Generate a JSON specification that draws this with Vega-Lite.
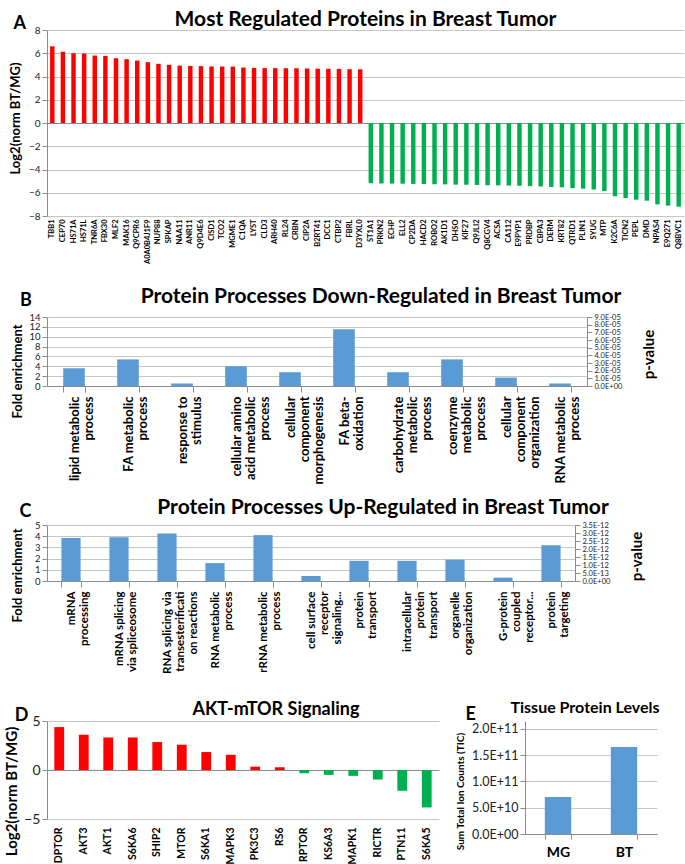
{
  "$schema": "https://vega.github.io/schema/vega-lite/v6.json",
  "padding": {"left": 4, "top": 9, "right": 4, "bottom": 2},
  "spacing": 22,
  "config": {
    "font": "Lato",
    "view": {"stroke": null},
    "axis": {"labelColor": "#222", "titleColor": "#000", "domainColor": "#8c8c8c", "tickColor": "#8c8c8c", "gridColor": "#c6c6c6", "labelFont": "Lato", "titleFont": "Lato", "labelOverlap": false},
    "title": {"font": "Lato", "fontWeight": "bold", "color": "#000"},
    "concat": {"spacing": 16}
  },
  "datasets": {
    "a": [
      {"protein": "TBB1", "log2": 6.6}, {"protein": "CEP70", "log2": 6.12}, {"protein": "HS71A", "log2": 6.0}, {"protein": "HS71L", "log2": 5.97},
      {"protein": "TNR6A", "log2": 5.8}, {"protein": "FBX30", "log2": 5.77}, {"protein": "MLF2", "log2": 5.57}, {"protein": "MAK16", "log2": 5.49},
      {"protein": "Q9CPR6", "log2": 5.37}, {"protein": "A0A0B4J1F9", "log2": 5.23}, {"protein": "NUP88", "log2": 5.09}, {"protein": "SPKAP", "log2": 5.0},
      {"protein": "NAA11", "log2": 4.94}, {"protein": "ANR11", "log2": 4.91}, {"protein": "Q9D4E6", "log2": 4.89}, {"protein": "CISD1", "log2": 4.86},
      {"protein": "TCO2", "log2": 4.86}, {"protein": "MGME1", "log2": 4.85}, {"protein": "C1QA", "log2": 4.77}, {"protein": "LYST", "log2": 4.74},
      {"protein": "CLD3", "log2": 4.72}, {"protein": "ARH40", "log2": 4.72}, {"protein": "RL24", "log2": 4.71}, {"protein": "CRBN", "log2": 4.71},
      {"protein": "CIP2A", "log2": 4.69}, {"protein": "B2RT41", "log2": 4.67}, {"protein": "DCC1", "log2": 4.66}, {"protein": "CTBP2", "log2": 4.65},
      {"protein": "FBRL", "log2": 4.63}, {"protein": "D3YXL0", "log2": 4.62},
      {"protein": "ST1A1", "log2": -5.18}, {"protein": "PRKN2", "log2": -5.2}, {"protein": "ECHP", "log2": -5.21}, {"protein": "ELL2", "log2": -5.22},
      {"protein": "CP2DA", "log2": -5.24}, {"protein": "HACD2", "log2": -5.25}, {"protein": "ROBO2", "log2": -5.27}, {"protein": "AK1D1", "log2": -5.28},
      {"protein": "DHSO", "log2": -5.3}, {"protein": "KIF27", "log2": -5.31}, {"protein": "Q9JLI2", "log2": -5.33}, {"protein": "Q8CGV4", "log2": -5.35},
      {"protein": "ACSA", "log2": -5.36}, {"protein": "CA112", "log2": -5.38}, {"protein": "E9PYP1", "log2": -5.4}, {"protein": "PRDBP", "log2": -5.43},
      {"protein": "CBPA3", "log2": -5.46}, {"protein": "DERM", "log2": -5.5}, {"protein": "KRT82", "log2": -5.53}, {"protein": "QTRD1", "log2": -5.6},
      {"protein": "PLIN1", "log2": -5.65}, {"protein": "SYUG", "log2": -5.72}, {"protein": "MTP", "log2": -5.85}, {"protein": "K2C6A", "log2": -6.3},
      {"protein": "TICN2", "log2": -6.45}, {"protein": "PEPL", "log2": -6.6}, {"protein": "DMD", "log2": -6.68}, {"protein": "NPAS4", "log2": -7.0},
      {"protein": "E9Q271", "log2": -7.1}, {"protein": "Q8BVC1", "log2": -7.2}
    ],
    "b": [
      {"process": "lipid metabolic|process", "fold": 3.6},
      {"process": "FA metabolic|process", "fold": 5.4},
      {"process": "response to|stimulus", "fold": 0.5},
      {"process": "cellular amino|acid metabolic|process", "fold": 4.0},
      {"process": "cellular|component|morphogenesis", "fold": 2.8},
      {"process": "FA beta-|oxidation", "fold": 11.5},
      {"process": "carbohydrate|metabolic|process", "fold": 2.8},
      {"process": "coenzyme|metabolic|process", "fold": 5.4},
      {"process": "cellular|component|organization", "fold": 1.7},
      {"process": "RNA metabolic|process", "fold": 0.5}
    ],
    "c": [
      {"process": "mRNA|processing", "fold": 3.85},
      {"process": "mRNA splicing|via spliceosome", "fold": 3.9},
      {"process": "RNA splicing  via|transesterificati|on reactions", "fold": 4.25},
      {"process": "RNA metabolic|process", "fold": 1.6},
      {"process": "rRNA metabolic|process", "fold": 4.1},
      {"process": "cell surface|receptor|signaling...", "fold": 0.45},
      {"process": "protein|transport", "fold": 1.8},
      {"process": "intracellular|protein|transport", "fold": 1.8},
      {"process": "organelle|organization", "fold": 1.9},
      {"process": "G-protein|coupled|receptor...", "fold": 0.3},
      {"process": "protein|targeting", "fold": 3.2}
    ],
    "d": [
      {"protein": "DPTOR", "log2": 4.38}, {"protein": "AKT3", "log2": 3.6}, {"protein": "AKT1", "log2": 3.32}, {"protein": "S6KA6", "log2": 3.32},
      {"protein": "SHIP2", "log2": 2.85}, {"protein": "MTOR", "log2": 2.58}, {"protein": "S6KA1", "log2": 1.83}, {"protein": "MAPK3", "log2": 1.55},
      {"protein": "PK3C3", "log2": 0.34}, {"protein": "RS6", "log2": 0.28}, {"protein": "RPTOR", "log2": -0.33}, {"protein": "KS6A3", "log2": -0.5},
      {"protein": "MAPK1", "log2": -0.6}, {"protein": "RICTR", "log2": -0.97}, {"protein": "PTN11", "log2": -2.12}, {"protein": "S6KA5", "log2": -3.82}
    ],
    "e": [
      {"tissue": "MG", "tic": 70500000000},
      {"tissue": "BT", "tic": 165500000000}
    ]
  },
  "vconcat": [
    {
      "title": {"text": "A", "anchor": "start", "fontSize": 18, "offset": -24, "dx": 4},
      "vconcat": [
        {
          "width": 637, "height": 186,
          "data": {"name": "a"},
          "title": {"text": "Most Regulated Proteins in Breast Tumor", "fontSize": 21, "dx": 0, "offset": -5},
          "mark": {"type": "bar"},
          "encoding": {
            "x": {"field": "protein", "type": "nominal", "sort": null, "scale": {"paddingInner": 0.58, "paddingOuter": 0.29},
                  "axis": {"title": null, "labelAngle": -90, "labelFontSize": 7.5, "labelFontWeight": "bold", "labelColor": "#000", "ticks": false, "domain": false, "labelPadding": 3}},
            "y": {"field": "log2", "type": "quantitative", "scale": {"domain": [-8, 8], "nice": false},
                  "axis": {"values": [-8, -6, -4, -2, 0, 2, 4, 6, 8], "title": "Log2(norm BT/MG)", "titleFontSize": 13, "titleFontWeight": "bold", "labelFontSize": 10, "titlePadding": 6, "titleY": 88,
                           "gridColor": {"condition": {"test": "datum.value === 0", "value": "#8c8c8c"}, "value": "#c6c6c6"}}},
            "color": {"condition": {"test": "datum.log2 > 0", "value": "#ff0000"}, "value": "#00b050"}
          }
        }
      ]
    },
    {
      "spacing": 23,
      "vconcat": [
        {
          "spacing": 12,
          "vconcat": [
            {
              "title": {"text": "B", "anchor": "start", "fontSize": 18, "offset": -24, "dx": 8},
              "vconcat": [
                {
                  "width": 540, "height": 69,
                  "data": {"name": "b"},
                  "title": {"text": "Protein Processes Down-Regulated in Breast Tumor", "fontSize": 21, "dx": 64, "offset": 5},
                  "encoding": {
                    "x": {"field": "process", "type": "nominal", "sort": null, "scale": {"paddingInner": 0.6, "paddingOuter": 0.3},
                          "axis": {"title": null, "labelAngle": -90, "labelFontSize": 13, "labelFontWeight": "bold", "labelColor": "#000", "labelExpr": "split(datum.label, '|')", "labelLineHeight": 14, "tickBand": "extent", "tickSize": 6, "labelPadding": 4}}
                  },
                  "layer": [
                    {
                      "mark": {"type": "bar", "color": "#5b9bd5"},
                      "encoding": {
                        "y": {"field": "fold", "type": "quantitative", "scale": {"domain": [0, 14], "nice": false},
                              "axis": {"values": [0, 2, 4, 6, 8, 10, 12, 14], "title": "Fold enrichment", "titleFontSize": 13, "titleFontWeight": "bold", "labelFontSize": 9.5, "titlePadding": 4, "titleY": 54}}
                      }
                    },
                    {
                      "mark": {"type": "point", "opacity": 0},
                      "encoding": {
                        "y": {"datum": 0, "type": "quantitative", "scale": {"domain": [0, 0.00009], "nice": false, "zero": false},
                              "axis": {"orient": "right", "grid": false, "values": [0, 0.00001, 0.00002, 0.00003, 0.00004, 0.00005, 0.00006, 0.00007, 0.00008, 0.00009],
                                       "labelExpr": "datum.value == 0 ? '0.0E+00' : format(datum.value / 0.00001, '.1f') + 'E-05'",
                                       "labelFontSize": 7.5, "title": "p-value", "titleAngle": 270, "titleBaseline": "top", "titleFontSize": 15, "titleFontWeight": "bold", "titlePadding": 20, "titleY": 37}}
                      }
                    }
                  ],
                  "resolve": {"scale": {"y": "independent"}}
                }
              ]
            },
            {
              "title": {"text": "C", "anchor": "start", "fontSize": 18, "offset": -24, "dx": 8},
              "vconcat": [
                {
                  "width": 528, "height": 56,
                  "data": {"name": "c"},
                  "title": {"text": "Protein Processes Up-Regulated in Breast Tumor", "fontSize": 21, "dx": 72, "offset": 2},
                  "encoding": {
                    "x": {"field": "process", "type": "nominal", "sort": null, "scale": {"paddingInner": 0.6, "paddingOuter": 0.3},
                          "axis": {"title": null, "labelAngle": -90, "labelFontSize": 11.5, "labelFontWeight": "bold", "labelColor": "#000", "labelExpr": "split(datum.label, '|')", "labelLineHeight": 13, "tickBand": "extent", "tickSize": 6, "labelPadding": 4}}
                  },
                  "layer": [
                    {
                      "mark": {"type": "bar", "color": "#5b9bd5"},
                      "encoding": {
                        "y": {"field": "fold", "type": "quantitative", "scale": {"domain": [0, 5], "nice": false},
                              "axis": {"values": [0, 1, 2, 3, 4, 5], "title": "Fold enrichment", "titleFontSize": 13, "titleFontWeight": "bold", "labelFontSize": 9.5, "titlePadding": 10, "titleY": 50}}
                      }
                    },
                    {
                      "mark": {"type": "point", "opacity": 0},
                      "encoding": {
                        "y": {"datum": 0, "type": "quantitative", "scale": {"domain": [0, 3.5e-12], "nice": false, "zero": false},
                              "axis": {"orient": "right", "grid": false, "values": [0, 5e-13, 1e-12, 1.5e-12, 2e-12, 2.5e-12, 3e-12, 3.5e-12],
                                       "labelExpr": "datum.value == 0 ? '0.0E+00' : (datum.value < 9e-13 ? format(datum.value / 1e-13, '.1f') + 'E-13' : format(datum.value / 1e-12, '.1f') + 'E-12')",
                                       "labelFontSize": 7.5, "title": "p-value", "titleAngle": 270, "titleBaseline": "top", "titleFontSize": 15, "titleFontWeight": "bold", "titlePadding": 20, "titleY": 31}}
                      }
                    }
                  ],
                  "resolve": {"scale": {"y": "independent"}}
                }
              ]
            }
          ]
        },
        {
          "spacing": 16,
          "hconcat": [
            {
              "title": {"text": "D", "anchor": "start", "fontSize": 18, "offset": -24, "dx": 10},
              "vconcat": [
                {
                  "width": 392, "height": 98,
                  "data": {"name": "d"},
                  "title": {"text": "AKT-mTOR Signaling", "fontSize": 18, "dx": 33, "offset": -5},
                  "mark": {"type": "bar"},
                  "encoding": {
                    "x": {"field": "protein", "type": "nominal", "sort": null, "scale": {"paddingInner": 0.6, "paddingOuter": 0.3},
                          "axis": {"title": null, "labelAngle": -90, "labelFontSize": 10.5, "labelFontWeight": "bold", "labelColor": "#000", "ticks": false, "domain": false, "labelPadding": 8}},
                    "y": {"field": "log2", "type": "quantitative", "scale": {"domain": [-5, 5], "nice": false},
                          "axis": {"values": [-5, 0, 5], "title": "Log2(norm BT/MG)", "titleFontSize": 15, "titleFontWeight": "bold", "labelFontSize": 14, "titlePadding": 4, "titleY": 70,
                                   "gridColor": {"condition": {"test": "datum.value === 0", "value": "#8c8c8c"}, "value": "#c6c6c6"}}},
                    "color": {"condition": {"test": "datum.log2 > 0", "value": "#ff0000"}, "value": "#00b050"}
                  }
                }
              ]
            },
            {
              "title": {"text": "E", "anchor": "start", "fontSize": 18, "offset": -24, "dx": 10},
              "vconcat": [
                {
                  "width": 132, "height": 113,
                  "data": {"name": "e"},
                  "title": {"text": "Tissue Protein Levels", "fontSize": 16, "dx": -6, "offset": 5},
                  "mark": {"type": "bar", "color": "#5b9bd5"},
                  "encoding": {
                    "x": {"field": "tissue", "type": "nominal", "sort": null, "scale": {"paddingInner": 0.6, "paddingOuter": 0.3},
                          "axis": {"title": null, "labelAngle": 0, "labelFontSize": 14, "labelFontWeight": "bold", "labelColor": "#000", "tickBand": "extent", "tickSize": 5, "labelPadding": 6}},
                    "y": {"field": "tic", "type": "quantitative", "scale": {"domain": [0, 215200000000], "nice": false},
                          "axis": {"values": [0, 50000000000, 100000000000, 150000000000, 200000000000],
                                   "labelExpr": "datum.value == 0 ? '0.0E+00' : (datum.value < 9e10 ? format(datum.value / 1e10, '.1f') + 'E+10' : format(datum.value / 1e11, '.1f') + 'E+11')",
                                   "title": "Sum Total Ion Counts (TIC)", "titleFontSize": 10, "titleFontWeight": "bold", "labelFontSize": 12.5, "titlePadding": 6, "titleY": 70}}
                  }
                }
              ]
            }
          ]
        }
      ]
    }
  ]
}
